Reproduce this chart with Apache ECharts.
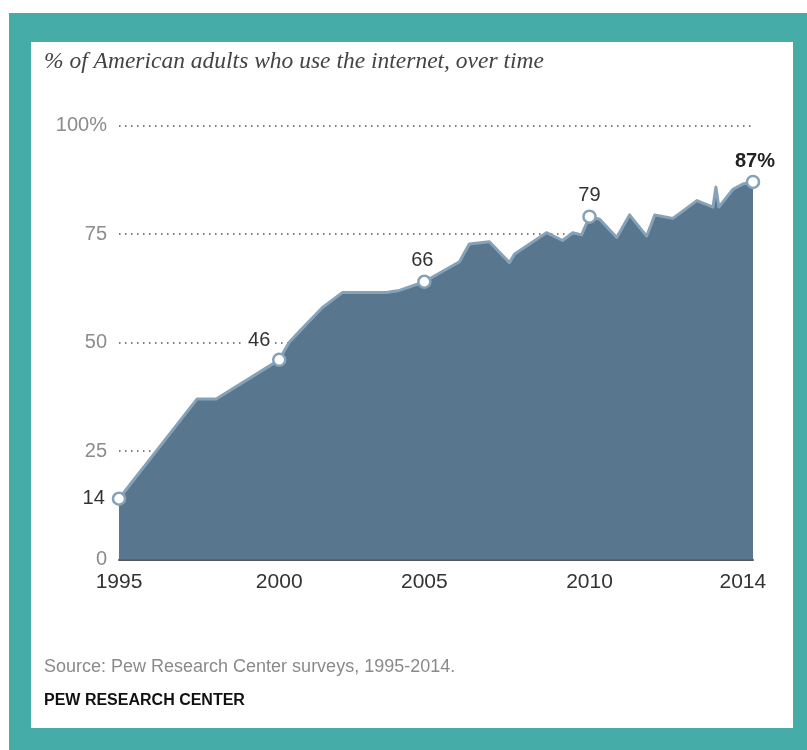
<!DOCTYPE html>
<html>
<head>
<meta charset="utf-8">
<script src="https://cdn.jsdelivr.net/npm/echarts@6/dist/echarts.min.js"></script>
<style>
html,body{margin:0;padding:0;background:#fff;}
#chart{width:807px;height:750px;}
</style>
</head>
<body>
<div id="chart"></div>
<script>
// Survey timeline (decimal year) and share of adults online (%)
const surveyYears = [1995.00, 1997.38, 1997.96, 1999.88, 2000.18, 2000.49, 2001.19, 2001.80, 2003.14, 2003.54,
  2004.30, 2005.37, 2005.67, 2006.28, 2006.89, 2007.05, 2008.02, 2008.51, 2008.82, 2009.09,
  2009.33, 2009.64, 2010.16, 2010.55, 2011.07, 2011.32, 2011.87, 2012.60, 2013.09, 2013.18,
  2013.27, 2013.70, 2014.00, 2014.31];
const internetUse = [14, 37, 37, 46, 50, 52.5, 58, 61.5, 61.5, 62,
  64, 68.6, 72.7, 73.2, 68.4, 70.4, 75.3, 73.5, 75.3, 74.8,
  79, 78.4, 74.2, 79.4, 74.5, 79.4, 78.6, 82.7, 81.2, 85.8,
  81.2, 85.3, 86.5, 87];

// Highlighted surveys and their labels
const highlightIndex = [0, 3, 10, 20, 33];
const highlightLabels = ['14', '46', '66', '79', '87%'];

// X-axis tick labels (placed under the highlighted surveys)
const xTickValues = [1995.00, 1999.88, 2004.30, 2009.33, 2014.00];
const xTickLabels = ['1995', '2000', '2005', '2010', '2014'];

// Y-axis ticks
const yTickValues = [0, 25, 50, 75, 100];
const yTickLabels = ['0', '25', '50', '75', '100%'];

const titleText = '% of American adults who use the internet, over time';
const sourceText = 'Source: Pew Research Center surveys, 1995-2014.';
const creditText = 'PEW RESEARCH CENTER';

const SANS = '"Liberation Sans", Arial, sans-serif';
const lineColor = '#86a2b8';
const areaColor = '#58778f';

const lineData = surveyYears.map((y, i) => [y, internetUse[i]]);

const labelSettings = [
  {position: 'left', distance: 4, offset: [0, 0], color: '#333', fontWeight: 'normal'},
  {position: 'top', distance: 4, offset: [-20, 2], color: '#333', fontWeight: 'normal'},
  {position: 'top', distance: 4, offset: [-2, 0], color: '#333', fontWeight: 'normal'},
  {position: 'top', distance: 4, offset: [0, 0], color: '#333', fontWeight: 'normal'},
  {position: 'top', distance: 3, offset: [2, 0], color: '#222', fontWeight: 'bold'}
];

const highlightData = highlightIndex.map((idx, k) => ({
  value: [surveyYears[idx], internetUse[idx]],
  label: Object.assign({
    show: true,
    formatter: highlightLabels[k],
    fontFamily: SANS,
    fontSize: 20,
    backgroundColor: '#fff',
    padding: [0, 3]
  }, labelSettings[k])
}));

const chart = echarts.init(document.getElementById('chart'), null, {renderer: 'canvas'});

const option = {
  backgroundColor: '#fff',
  animation: false,
  graphic: [
    {type: 'rect', z: -100, silent: true, shape: {x: 9, y: 13, width: 798, height: 737}, style: {fill: '#45aca8'}},
    {type: 'rect', z: -99, silent: true, shape: {x: 31, y: 42, width: 762, height: 686}, style: {fill: '#ffffff'}}
  ],
  title: [
    {text: titleText, left: 44, top: 50, padding: 0,
      textStyle: {fontFamily: '"Liberation Serif", "DejaVu Serif", serif', fontStyle: 'italic', fontWeight: 'normal', fontSize: 23.5, color: '#444'}},
    {text: sourceText, left: 44, top: 658, padding: 0,
      textStyle: {fontFamily: SANS, fontWeight: 'normal', fontSize: 18, color: '#8a8a8a'}},
    {text: creditText, left: 44, top: 693, padding: 0,
      textStyle: {fontFamily: SANS, fontWeight: 'bold', fontSize: 16, color: '#111'}}
  ],
  grid: {left: 119, right: 54, top: 125.5, bottom: 190.5, containLabel: false},
  xAxis: {
    type: 'value',
    min: 1995,
    max: 2014.31,
    axisLine: {show: true, lineStyle: {color: '#555', width: 2}},
    axisTick: {show: false},
    splitLine: {show: false},
    axisLabel: {
      customValues: xTickValues,
      formatter: function (v) {
        let best = 0;
        for (let i = 1; i < xTickValues.length; i++) {
          if (Math.abs(xTickValues[i] - v) < Math.abs(xTickValues[best] - v)) best = i;
        }
        return xTickLabels[best];
      },
      fontFamily: SANS, fontSize: 21, color: '#333', margin: 12
    }
  },
  yAxis: {
    type: 'value',
    min: 0,
    max: 100,
    interval: 25,
    axisLine: {show: false},
    axisTick: {show: false},
    splitLine: {show: true, lineStyle: {color: '#555', width: 1.5, type: [1.5, 4.5]}},
    axisLabel: {
      formatter: function (v) {
        const i = yTickValues.indexOf(v);
        return i >= 0 ? yTickLabels[i] : '';
      },
      fontFamily: SANS, fontSize: 20, color: '#8c8c8c', margin: 12
    }
  },
  series: [
    {
      type: 'line',
      data: lineData,
      showSymbol: false,
      symbol: 'none',
      lineStyle: {color: lineColor, width: 3, join: 'round'},
      areaStyle: {color: areaColor, opacity: 1},
      z: 2
    },
    {
      type: 'scatter',
      data: highlightData,
      symbol: 'circle',
      symbolSize: 12,
      itemStyle: {color: '#fff', borderColor: lineColor, borderWidth: 2.5, opacity: 1},
      z: 5
    }
  ]
};

chart.setOption(option);
</script>
</body>
</html>
